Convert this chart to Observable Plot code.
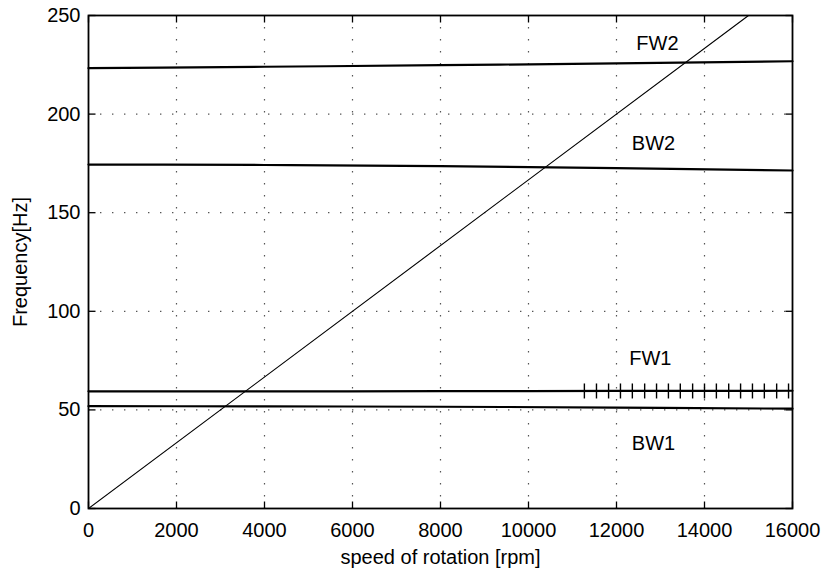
<!DOCTYPE html>
<html><head><meta charset="utf-8">
<script src="https://cdn.jsdelivr.net/npm/d3@7"></script>
<script src="https://cdn.jsdelivr.net/npm/@observablehq/plot@0.6"></script>
<style>
body{margin:0;background:#fff;}
svg{font-family:"Liberation Sans",Arial,Helvetica,sans-serif;}
</style>
</head><body><div id="chart"></div>
<script>
// ---- data ----
const speedGrid = [0, 4000, 8000, 12000, 16000];
const fw2 = [223.3, 224.0, 224.8, 225.7, 226.8];
const bw2 = [174.4, 174.2, 173.6, 172.6, 171.4];
const fw1 = [59.4, 59.4, 59.5, 59.6, 59.7];
const bw1 = [51.9, 51.8, 51.6, 51.2, 50.6];
const excitationSpeed = [0, 15000];
const excitationFreq = [0, 250];
const markerSpeeds = [11270, 11545, 11820, 12090, 12360, 12640, 12910, 13180, 13450,
                      13730, 14000, 14270, 14550, 14820, 15090, 15360, 15640, 15910];
const markerFreq = 59.6;
const xTicks = [0, 2000, 4000, 6000, 8000, 10000, 12000, 14000, 16000];
const yTicks = [0, 50, 100, 150, 200, 250];
const modeLabels = ["FW2", "BW2", "FW1", "BW1"];
const labelSpeed = [12930, 12840, 12770, 12840];
const labelFreq = [235.8, 185, 76, 33];
const xTitle = "speed of rotation [rpm]";
const yTitle = "Frequency[Hz]";

// ---- build tables ----
const series = [fw2, bw2, fw1, bw1].map((vals, k) =>
  speedGrid.map((s, i) => ({speed: s, freq: vals[i], mode: modeLabels[k]}))).flat();
const excitation = excitationSpeed.map((s, i) => ({speed: s, freq: excitationFreq[i]}));
const labels = modeLabels.map((m, i) => ({m, speed: labelSpeed[i], freq: labelFreq[i]}));

// line-segment symbols (length = r)
const seg = (dx, dy) => ({draw(ctx, size) { const l = Math.sqrt(size / Math.PI); ctx.moveTo(0, 0); ctx.lineTo(dx * l, dy * l); }});
const vbar = {draw(ctx, size) { const l = Math.sqrt(size / Math.PI); ctx.moveTo(0, -l); ctx.lineTo(0, l); }};

const grid = {stroke: "#555", strokeWidth: 1.2, strokeDasharray: "1.4 10.6", strokeOpacity: 1};
const fmt = d3.format("d");

const chart = Plot.plot({
  width: 822,
  height: 573,
  marginLeft: 88,
  marginRight: 30,
  marginTop: 15,
  marginBottom: 65,
  style: {background: "#fff", color: "#000", fontFamily: '"Liberation Sans", Arial, sans-serif'},
  x: {domain: [0, 16000], label: null},
  y: {domain: [0, 250], label: null},
  marks: [
    Plot.ruleX(xTicks.slice(1, -1), grid),
    Plot.ruleY(yTicks.slice(1, -1), grid),
    Plot.line(excitation, {x: "speed", y: "freq", stroke: "#000", strokeWidth: 1.1, clip: true}),
    Plot.line(series, {x: "speed", y: "freq", z: "mode", stroke: "#000", strokeWidth: 2.2, curve: "monotone-x"}),
    Plot.dot(markerSpeeds, {x: d => d, y: () => markerFreq, symbol: vbar, r: 7.5, stroke: "#000", fill: "none", strokeWidth: 1.4}),
    Plot.text(labels, {x: "speed", y: "freq", text: "m", fontSize: 20, fill: "#000"}),
    // inward ticks on all four sides
    Plot.dot(xTicks, {x: d => d, y: () => 0, symbol: seg(0, -1), r: 7, stroke: "#000", fill: "none", strokeWidth: 1.3}),
    Plot.dot(xTicks, {x: d => d, y: () => 250, symbol: seg(0, 1), r: 7, stroke: "#000", fill: "none", strokeWidth: 1.3}),
    Plot.dot(yTicks, {x: () => 0, y: d => d, symbol: seg(1, 0), r: 7, stroke: "#000", fill: "none", strokeWidth: 1.3}),
    Plot.dot(yTicks, {x: () => 16000, y: d => d, symbol: seg(-1, 0), r: 7, stroke: "#000", fill: "none", strokeWidth: 1.3}),
    Plot.frame({stroke: "#000", strokeWidth: 1.8}),
    Plot.axisX(xTicks, {anchor: "bottom", tickSize: 0, tickPadding: 14, fontSize: 20, label: null, tickFormat: fmt}),
    Plot.axisY(yTicks, {anchor: "left", tickSize: 0, tickPadding: 8, fontSize: 20, label: null, tickFormat: fmt}),
    Plot.text([xTitle], {frameAnchor: "bottom", dy: 55, fontSize: 20, text: d => d, fill: "#000"}),
    Plot.text([yTitle], {frameAnchor: "left", dx: -68, rotate: -90, textAnchor: "middle", fontSize: 20, text: d => d, fill: "#000"})
  ]
});
document.getElementById("chart").appendChild(chart);
</script>
</body></html>
